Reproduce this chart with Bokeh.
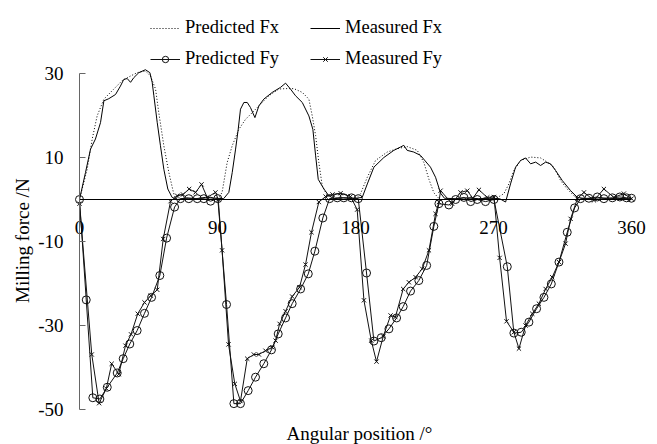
import math
from bokeh.plotting import figure
from bokeh.models import Range1d, LinearAxis, FixedTicker, Legend, LegendItem, Label
from bokeh.embed import file_html
from bokeh.resources import INLINE

# ---------------- data ----------------
x_ticks = [0, 90, 180, 270, 360]
y_ticks = [-50, -30, -10, 10, 30]
y_tick_labels = ["-50", "-30", "-10", "10", "30"]
x_title = "Angular position /°"
y_title = "Milling force /N"

mfx_deg = [0, 3.9, 7.2, 10.4, 13.7, 15.9, 19.1, 23.5, 26.7, 28.9, 31.1, 33.3, 35.4, 38.7, 43, 45.9,
           47.4, 48.5, 50.7, 52.8, 55, 57.6, 60.4, 64, 70, 76, 82, 88, 94, 97.4, 99.6, 101.8, 103.5,
           105, 107.2, 109.4, 111.5, 114.4, 117, 120.2, 125.7, 131.1, 134.4, 137.6, 140.9, 145.3,
           149.6, 152.2, 154, 155.7, 159.4, 162.6, 166, 172, 178, 184.4, 187.7, 192, 198.5, 205,
           209.4, 211.5, 213.7, 218, 222.4, 228.9, 232.2, 235.5, 238, 245, 252, 260, 268, 274,
           277.9, 281.1, 284.4, 287.7, 290.9, 294.2, 297.5, 300.7, 304, 307.2, 310.5, 314.9, 320.3,
           324.7, 330, 340, 350, 360]
mfx_val = [0, 6.4, 12, 14.4, 18.3, 23.5, 24, 25, 27, 28.6, 28.8, 27.9, 29, 30.2, 30.9, 30.2,
           27.9, 24.7, 18.3, 12.8, 7.2, 2.5, 0.5, 0, 0.4, 0.2, 0.5, 0.3, 0.2, 1.7, 6.4, 12, 16.7,
           21.5, 23.1, 23.1, 21.9, 19.5, 22.3, 23.9, 25.5, 26.7, 27.7, 26.3, 24.7, 23.1,
           19.9, 16.7, 10.4, 4.8, 2.5, 0.9, 0.2, 0.4, 0.2, 0.5, 3.7, 7.7, 10, 11.7,
           12.5, 12.9, 11.7, 11.3, 10.5, 7.7, 5.3, 1.5, 0.3, 0.2, 0.4, 0.2, 0.3, 0.2,
           -0.6, 3.7, 7.7, 9.3, 9.9, 8.5, 8.9, 8.1, 8.9, 8.5, 6.9, 4.5, 2.1,
           0.5, 0.2, 0.4, 0.2, 0.3]

pfx_deg = [0, 5, 8.3, 11.5, 15.9, 22.4, 27.8, 33.3, 37.6, 43, 46.3, 49.6, 51.7, 55, 58.3, 61.5, 63,
           70, 80, 88, 91, 93, 96.3, 99.6, 103.9, 108.3, 112.7, 117, 123.5, 130, 134.4, 139.8,
           145.3, 149.6, 151.8, 154, 156.1, 158.3, 161.6, 164, 172, 180, 183.3, 187.7, 193.1,
           200.7, 207.2, 213.7, 220.3, 224.6, 227.9, 231.1, 235, 250, 265, 271.4, 276.8, 280,
           283.3, 287.7, 294.2, 300.7, 305.1, 309.4, 313.8, 318.1, 322.5, 326, 340, 360]
pfx_val = [0, 7.2, 14.4, 19.9, 23.9, 26.3, 28.3, 29.4, 30.2, 30.6, 29.4, 26.3, 20.7, 12.8, 6.4, 1.3, 0,
           0, 0, 0, 0.5, 1.7, 8.8, 12.8, 16.7, 19.1, 20.7, 22.3, 24.7, 26.3, 26.4, 26.4,
           25.5, 23.9, 19.9, 15.2, 8.8, 3.3, 0.9, 0, 0, 0, 1.4, 5.3, 9.3,
           11.3, 12.1, 12.6, 11.7, 8.8, 4.8, 1.6, 0, 0, 0, 0.2, 1.4, 3.7,
           6.9, 9.3, 10.1, 9.9, 8.9, 7.7, 4.5, 2.5, 0.9, 0, 0, 0]

pfy_deg = [0, 4.4, 8.7, 13.3, 18.1, 24.6, 28.5, 32.8, 37.6, 42.4, 47, 52.4, 56.8, 62, 65.9, 71.3,
           76.8, 81.1, 85.5, 90.2, 95.9, 100.7, 105, 110, 114.8, 120.2, 125.2, 129.6, 134.4, 138.7,
           144.2, 149.2, 153.5, 158.7, 163.1, 168.1, 172.4, 177.4, 181.8, 187.2, 192, 196.8, 201.8,
           206.8, 211.1, 215.9, 221.3, 226.4, 231.1, 234.4, 240.9, 245.3, 250.7, 255.1, 259.4,
           264.8, 270.3, 279, 283.3, 288.1, 293.1, 298.1, 302.9, 307.7, 312.7, 318.1, 322.9, 326.8,
           332.2, 337.7, 342, 347.5, 352.4, 356.8, 360]
pfy_val = [0, -23.9, -47.2, -47.5, -44.7, -41.3, -37.9, -34.4, -31.2, -27.1, -23.3, -18.1, -9.2, -1.8, 0.2, 0.2,
           0.2, 0.2, -0.4, 0.2, -25, -48.6, -48.6, -45.5, -42.3, -39.1, -35.8, -32, -28.2, -24.8,
           -21.3, -17.7, -12.3, -4.4, 0.2, 0.4, 0.4, 0.4, 0.2, -17.5, -33.7, -32.9, -30.8,
           -28.2, -25.5, -21.8, -19.3, -15.7, -6.4, -1, -1.3, 0, 0.5, -0.5, 0,
           -0.5, 0, -16, -31.8, -31.6, -29.2, -26, -23.3, -20.1, -14.9, -7.8, -2, 0.2,
           0.3, 0.6, 0.2, 0.4, 0.6, 0.4, 0.3]

mfy_deg = [0, 8, 12.8, 17.5, 21, 25.6, 30, 33.6, 38, 42.4, 46.5, 50.7, 54.6, 59.4, 63.7, 67.5, 71.5,
           75.7, 79.6, 83.3, 88.7, 90.5, 93, 97.2, 101.3, 105, 109.4, 113.7, 117, 121.3, 125.7,
           127.9, 130.5, 134.4, 138.7, 143.5, 147.4, 151.3, 156.1, 160.5, 165, 170.3, 176.8, 181.1,
           185.5, 190.3, 193.7, 198.1, 202.9, 206, 211.1, 214.8, 219.2, 223.5, 227.9, 232.2, 234.4,
           235.5, 243, 248.5, 252.9, 256.5, 260.5, 265.9, 270.3, 274, 278.5, 283.3, 286.6, 290.9,
           295.3, 299.6, 304, 308.3, 312.7, 317, 320.3, 324.7, 329, 335.5, 342, 348.5, 355, 360]
mfy_val = [-1, -36.9, -48.5, -45, -39.1, -41.6, -34.8, -32.1, -27.2, -24.5, -22.9, -21.5, -9.4, -0.4, 0.9, 1.2, 2.5,
           1.7, 3.6, 0.5, 1.7, 0, -12.1, -34.5, -43.9, -48, -37.9, -36.9, -36.9, -36, -35.2,
           -33.6, -29.6, -26.6, -23.1, -20.9, -15.5, -7.8, -0.6, 0.7, 1.2, 1.5, 0.7, -2.4,
           -24, -33.6, -38.6, -32.6, -27.6, -28, -21.3, -19.7, -18.5, -16.5, -12.1, -3.4, -0.6,
           2.1, -1, 1.7, 2.1, 0.3, 2.3, 0.5, 0.6, -13.9, -29, -31.6, -35.5, -30,
           -27.2, -24.8, -21.3, -18.5, -14.9, -10.5, -4.6, 0.2, 1.7, -0.2, 2.5, 0.5, 1.4, 0.2]

FONT = "Liberation Serif"
FS = "19px"
INK = "#111111"

p = figure(frame_width=657, frame_height=444,
           x_range=Range1d(-51.52, 376.96), y_range=Range1d(-58.33, 47.38),
           x_axis_location=None, y_axis_location=None,
           min_border_left=0, min_border_right=0, min_border_top=0, min_border_bottom=0,
           output_backend="svg", toolbar_location=None,
           background_fill_color="white", border_fill_color="white", outline_line_color=None)
p.grid.visible = False

# x axis drawn along y = 0
xax = LinearAxis(fixed_location=0, ticker=FixedTicker(ticks=x_ticks), bounds=(0, 360),
                 major_tick_in=0, major_tick_out=0, minor_tick_line_color=None,
                 axis_line_color="black", axis_line_width=1,
                 major_label_standoff=21, major_label_text_font=FONT,
                 major_label_text_font_size=FS, major_label_text_color="black")
p.add_layout(xax, "below")

# y axis at x = 0
yax = LinearAxis(fixed_location=0, ticker=FixedTicker(ticks=y_ticks), bounds=(-50, 30),
                 major_tick_in=6, major_tick_out=0, minor_tick_line_color=None,
                 axis_line_color="#666666", major_tick_line_color="#666666",
                 major_label_standoff=16, major_label_text_font=FONT,
                 major_label_text_font_size=FS, major_label_text_color="black",
                 major_label_overrides={t: s for t, s in zip(y_ticks, y_tick_labels)})
p.add_layout(yax, "left")

# axis titles
p.add_layout(Label(x=182.6, y=-55.8, text=x_title, text_align="center", text_baseline="middle",
                   text_font=FONT, text_font_size=FS, text_color="black"))
p.add_layout(Label(x=-37.2, y=-9.8, text=y_title, angle=math.pi / 2, text_align="center",
                   text_baseline="middle", text_font=FONT, text_font_size=FS, text_color="black"))

r_pfx = p.line(pfx_deg, pfx_val, line_color="black", line_width=1, line_dash="1 2")
r_mfx = p.line(mfx_deg, mfx_val, line_color="black", line_width=1)
r_pfy_l = p.line(pfy_deg, pfy_val, line_color=INK, line_width=1)
r_pfy_m = p.scatter(pfy_deg, pfy_val, marker="circle", size=8, fill_color=None,
                    line_color=INK, line_width=1)
r_mfy_l = p.line(mfy_deg, mfy_val, line_color=INK, line_width=1)
r_mfy_m = p.scatter(mfy_deg, mfy_val, marker="x", size=6, line_color=INK, line_width=1)

legend = Legend(items=[
    LegendItem(label="Predicted Fx", renderers=[r_pfx]),
    LegendItem(label="Measured Fx", renderers=[r_mfx]),
    LegendItem(label="Predicted Fy", renderers=[r_pfy_l, r_pfy_m]),
    LegendItem(label="Measured Fy", renderers=[r_mfy_l, r_mfy_m]),
], location=(150, 375), orientation="horizontal", ncols=2,
    glyph_width=30, glyph_height=16, label_height=16, label_width=115,
    label_standoff=5, spacing=10, padding=0, margin=0,
    border_line_color=None, background_fill_alpha=0,
    label_text_font=FONT, label_text_font_size="18.5px", label_text_color="black")
p.add_layout(legend, "center")

open("out.html", "w").write(file_html(p, INLINE))
